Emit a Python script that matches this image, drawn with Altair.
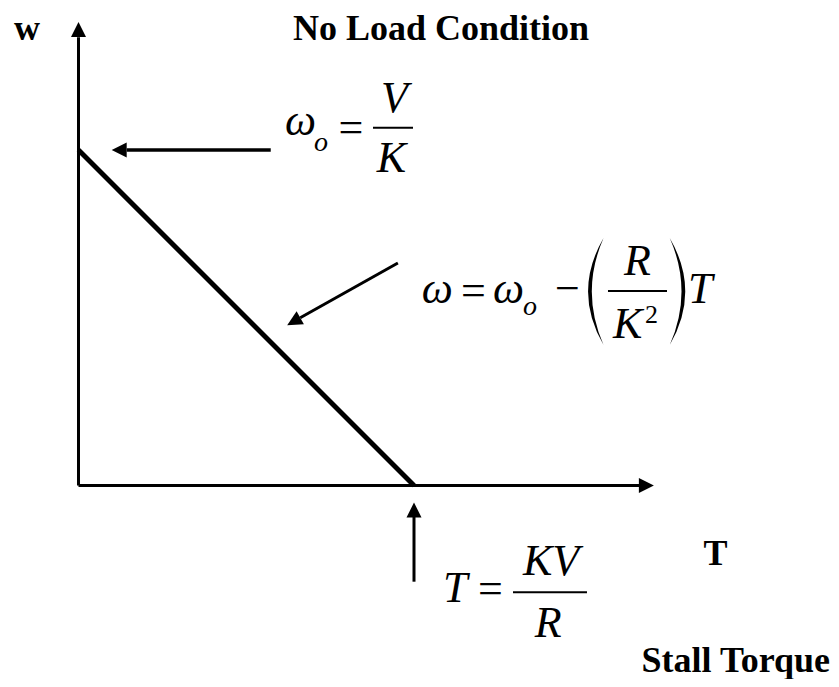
import altair as alt
import pandas as pd
import numpy as np

# Speed-torque characteristic, normalised so that w0 = 1 and T_stall = 1
torque = [0.0, 1.0]
speed = [1.0, 0.0]

# Line segments (axes, arrow shafts, fraction bars): start, end, stroke width
seg_x = [0.0, 0.0, torque[0], 0.573, 0.952, 1.0, 0.8778, 1.5782, 1.2951]
seg_y = [0.0, 0.0, speed[0], 1.0, 0.663, -0.2867, 1.0665, 0.5797, -0.3183]
seg_x2 = [0.0, 1.6715, torque[1], 0.1437, 0.661, 1.0, 0.997, 1.7541, 1.5156]
seg_y2 = [1.336, 0.0, speed[1], 1.0, 0.500, -0.0939, 1.0665, 0.5797, -0.3183]
seg_w = [3, 3, 5, 3.5, 3, 3, 2, 2, 2]

# Arrow tips
UP = "M0,0L-1,2L1,2Z"
RIGHT = "M0,0L-2,-1L-2,1Z"
LEFT = "M0,0L2,-1L2,1Z"
diag_start = (0.952, 0.663)
diag_tip = (0.622, 0.478)
diag_angle = float(np.degrees(np.arctan2(diag_tip[1] - diag_start[1],
                                         -(diag_tip[0] - diag_start[0]))) % 360)
head_x = [0.0, 1.715, 0.099, diag_tip[0], 1.0]
head_y = [1.3815, 0.0, 1.0, diag_tip[1], -0.0507]
head_shape = [UP, RIGHT, LEFT, LEFT, UP]
head_angle = [0, 0, 0, diag_angle, 0]

# Large parentheses
LPAREN = "M0.16,-1Q-0.42,0 0.16,1Q-0.28,0 0.16,-1Z"
RPAREN = "M-0.16,-1Q0.42,0 -0.16,1Q0.28,0 -0.16,-1Z"
paren_x = [1.5395, 1.7878]
paren_y = [0.5782, 0.5782]
paren_shape = [LPAREN, RPAREN]

# Bold labels
bold_c_text = ["w", "No Load Condition", "T"]
bold_c_x = [-0.1535, 1.0805, 1.8987]
bold_c_y = [1.3279, 1.3279, -0.2370]
bold_r_text = ["Stall Torque"]
bold_r_x = [2.2399]
bold_r_y = [-0.5559]

# Italic math symbols (left aligned)
ital_l_text = ["ω", "ω", "ω", "T", "T", "K", "o", "o"]
ital_l_x = [0.6155, 1.0229, 1.2355, 1.8167, 1.0864, 1.5931, 0.7019, 1.3249]
ital_l_y = [1.0447, 0.5431, 0.5431, 0.5440, -0.3464, 0.4396, 0.9979, 0.5082]
ital_l_size = [44, 44, 44, 44, 44, 44, 28, 28]

# Italic math symbols (centred)
ital_c_text = ["V", "K", "R", "KV", "R"]
ital_c_x = [0.9419, 0.9329, 1.6662, 1.4083, 1.4003]
ital_c_y = [1.1133, 0.9344, 0.6274, -0.2668, -0.4507]

# Upright math symbols (centred)
up_text = ["=", "=", "−", "=", "2"]
up_x = [0.8122, 1.1768, 1.4569, 1.2274, 1.7079]
up_y = [1.0253, 0.5386, 0.5434, -0.3502, 0.4844]
up_size = [44, 44, 44, 44, 26]

W, H = 823, 671
xs = alt.Scale(domain=[-0.21013, 2.24292], nice=False, zero=False)
ys = alt.Scale(domain=[-0.57675, 1.42325], nice=False, zero=False)
FONT = "Liberation Serif"


def X(f="x"):
    return alt.X(f"{f}:Q", scale=xs, axis=None)


def Y(f="y"):
    return alt.Y(f"{f}:Q", scale=ys, axis=None)


seg_df = pd.DataFrame({"x": seg_x, "y": seg_y, "x2": seg_x2, "y2": seg_y2, "w": seg_w})
segs = alt.Chart(seg_df).mark_rule(color="black", strokeCap="butt").encode(
    x=X(), y=Y(), x2="x2:Q", y2="y2:Q",
    strokeWidth=alt.StrokeWidth("w:Q", scale=None, legend=None),
)

head_df = pd.DataFrame({"x": head_x, "y": head_y, "shape": head_shape, "angle": head_angle})
heads = alt.Chart(head_df).mark_point(filled=True, color="black", opacity=1, size=225, strokeWidth=0).encode(
    x=X(), y=Y(),
    shape=alt.Shape("shape:N", scale=None, legend=None),
    angle=alt.Angle("angle:Q", scale=None),
)

paren_df = pd.DataFrame({"x": paren_x, "y": paren_y, "shape": paren_shape})
parens = alt.Chart(paren_df).mark_point(filled=True, color="black", opacity=1, size=11449, strokeWidth=0).encode(
    x=X(), y=Y(),
    shape=alt.Shape("shape:N", scale=None, legend=None),
)


def text_layer(texts, xv, yv, sizes, align, style, weight):
    df = pd.DataFrame({"t": texts, "x": xv, "y": yv, "s": sizes})
    return alt.Chart(df).mark_text(
        align=align, baseline="alphabetic", font=FONT, fontStyle=style,
        fontWeight=weight, color="black",
    ).encode(
        x=X(), y=Y(), text="t:N",
        size=alt.Size("s:Q", scale=None, legend=None),
    )


t1 = text_layer(bold_c_text, bold_c_x, bold_c_y, [36] * 3, "center", "normal", "bold")
t2 = text_layer(bold_r_text, bold_r_x, bold_r_y, [36], "right", "normal", "bold")
t3 = text_layer(ital_l_text, ital_l_x, ital_l_y, ital_l_size, "left", "italic", "normal")
t4 = text_layer(ital_c_text, ital_c_x, ital_c_y, [44] * 5, "center", "italic", "normal")
t5 = text_layer(up_text, up_x, up_y, up_size, "center", "normal", "normal")

chart = alt.layer(segs, heads, parens, t1, t2, t3, t4, t5).properties(
    width=W, height=H, padding=0, autosize="none", background="white",
).configure_view(stroke=None)

chart.save("out.html", embed_options={"renderer": "svg", "actions": False})
